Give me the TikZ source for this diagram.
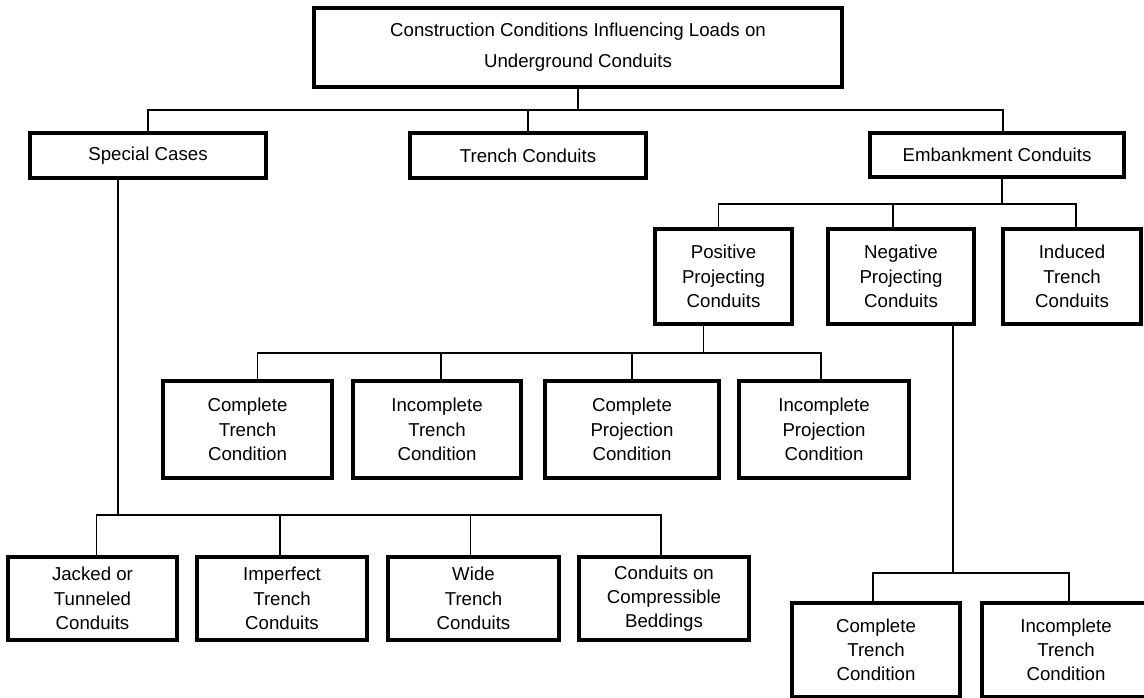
\documentclass[tikz,border=0pt]{standalone}
\usepackage{fontspec}
\setmainfont{Liberation Sans}
\usetikzlibrary{calc}
\newcommand\mybox[6]{\node[box, minimum width={(#4-#2)*0.75pt}, minimum height={(#5-#3)*0.75pt}] (#1) at ({(#2+#4)/2},{(#3+#5)/2}) {#6};}
\begin{document}
\begin{tikzpicture}[x=0.75pt,y=-0.75pt,
  box/.style={draw, line width=2.3pt, align=center, inner sep=0pt, font=\fontsize{14}{18.2}\selectfont},
  conn/.style={line width=1.1pt}]
\useasboundingbox (0,0) rectangle (1144,698);
\clip (0,0) rectangle (1144,698);
% boxes
\mybox{top}{314}{8}{842}{87}{Construction Conditions Influencing Loads on\\[5pt]Underground Conduits}
\mybox{special}{30}{133}{266}{178}{Special Cases}
\mybox{trench}{410}{133}{646}{178}{Trench Conduits}
\mybox{emb}{870}{133}{1124}{177}{Embankment Conduits}
\mybox{pos}{655}{229}{792}{324}{Positive\\Projecting\\Conduits}
\mybox{neg}{828}{229}{974}{324}{Negative\\Projecting\\Conduits}
\mybox{ind}{1003}{229}{1141}{324}{Induced\\Trench\\Conduits}
\mybox{ctA}{163}{381}{332}{478}{Complete\\Trench\\Condition}
\mybox{itA}{353}{381}{521}{478}{Incomplete\\Trench\\Condition}
\mybox{cp}{545}{381}{719}{478}{Complete\\Projection\\Condition}
\mybox{ip}{739}{381}{909}{478}{Incomplete\\Projection\\Condition}
\mybox{jack}{8}{557}{177}{640}{Jacked or\\Tunneled\\Conduits}
\mybox{imp}{197}{557}{367}{640}{Imperfect\\Trench\\Conduits}
\mybox{wide}{388}{557}{559}{640}{Wide\\Trench\\Conduits}
\mybox{comp}{579}{557}{749}{640}{Conduits on\\Compressible\\Beddings}
\mybox{ctB}{792}{603}{960}{697}{Complete\\Trench\\Condition}
\mybox{itB}{982}{603}{1150}{697}{Incomplete\\Trench\\Condition}
% bus levels
\coordinate (b1) at (0,110);
\coordinate (b2) at (0,204);
\coordinate (b3) at (0,353);
\coordinate (b4) at (0,515);
\coordinate (b5) at (0,573);
% level 1
\draw[conn] (top.south) -- (top.south |- b1);
\draw[conn] (special.north) -- (special.north |- b1) -- ($(emb.north |- b1)+(6,0)$) -- ($(emb.north)+(6,0)$);
\draw[conn] (trench.north) -- (trench.north |- b1);
% embankment
\draw[conn] ($(emb.south)+(5,0)$) -- ($(emb.south |- b2)+(5,0)$);
\draw[conn] ($(pos.north)+(-5,0)$) -- ($(pos.north |- b2)+(-5,0)$) -- ($(ind.north |- b2)+(4,0)$) -- ($(ind.north)+(4,0)$);
\draw[conn] ($(neg.north)+(-8,0)$) -- ($(neg.north |- b2)+(-8,0)$);
% positive projecting
\draw[conn] ($(pos.south)+(-20,0)$) -- ($(pos.south |- b3)+(-20,0)$);
\draw[conn] ($(ctA.north)+(10,0)$) -- ($(ctA.north |- b3)+(10,0)$) -- ($(ip.north |- b3)+(-3,0)$) -- ($(ip.north)+(-3,0)$);
\draw[conn] ($(itA.north)+(4,0)$) -- ($(itA.north |- b3)+(4,0)$);
\draw[conn] (cp.north) -- (cp.north |- b3);
% special cases
\draw[conn] ($(special.south)+(-30,0)$) -- ($(special.south |- b4)+(-30,0)$);
\draw[conn] ($(jack.north)+(4,0)$) -- ($(jack.north |- b4)+(4,0)$) -- ($(comp.north |- b4)+(-3,0)$) -- ($(comp.north)+(-3,0)$);
\draw[conn] ($(imp.north)+(-2,0)$) -- ($(imp.north |- b4)+(-2,0)$);
\draw[conn] ($(wide.north)+(-3,0)$) -- ($(wide.north |- b4)+(-3,0)$);
% negative projecting
\draw[conn] ($(neg.south)+(52,0)$) -- ($(neg.south |- b5)+(52,0)$);
\draw[conn] ($(ctB.north)+(-3,0)$) -- ($(ctB.north |- b5)+(-3,0)$) -- ($(itB.north |- b5)+(3,0)$) -- ($(itB.north)+(3,0)$);
\end{tikzpicture}
\end{document}
